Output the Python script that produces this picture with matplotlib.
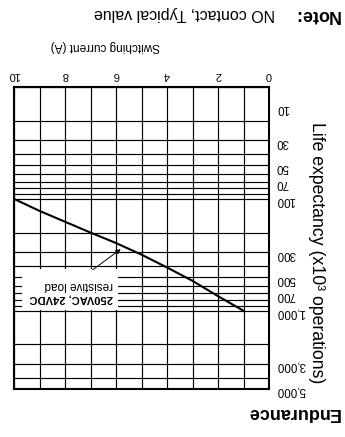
import matplotlib
matplotlib.use('Agg')
import matplotlib.pyplot as plt
from matplotlib.patches import Rectangle
from matplotlib.transforms import ScaledTranslation

plt.rcParams['font.family'] = ['Liberation Sans', 'DejaVu Sans']

# endurance curve (A, x10^3 operations)
current = [1, 2, 3, 4, 5, 6, 7, 8, 9, 10]
life = [1000, 740, 540, 410, 315, 248, 200, 160, 128, 100]

x_ticks = [0, 2, 4, 6, 8, 10]
x_minor = [1, 3, 5, 7, 9]
y_ticks = [10, 30, 50, 70, 100, 300, 500, 700, 1000, 3000, 5000]
y_labels = ['10', '30', '50', '70', '100', '300', '500', '700', '1,000', '3,000', '5,000']
y_minor = [20, 40, 60, 80, 90, 200, 400, 600, 800, 900, 2000, 4000]

# the whole sheet is upside down, so flip axes and turn every text 180
fig = plt.figure(figsize=(3.45, 4.37), dpi=100)
ax = fig.add_axes([14/345, 48/437, 255/345, 302/437])

ax.set_yscale('log')
ax.set_xlim(10, 0)
ax.set_ylim(5000, 10)

ax.set_xticks(x_ticks)
ax.set_xticks(x_minor, minor=True)
ax.set_xticklabels([str(v) for v in x_ticks], rotation=180, fontsize=8)
ax.set_yticks(y_ticks)
ax.set_yticks(y_minor, minor=True)
ax.set_yticklabels(y_labels, rotation=180, fontsize=8.3)
ax.yaxis.set_minor_formatter(plt.NullFormatter())

ax.xaxis.tick_top()
ax.yaxis.tick_right()
ax.tick_params(which='both', length=0)
ax.tick_params(axis='x', pad=5)
ax.tick_params(axis='y', pad=5)

# "10" label sits a bit below the corner
lab10 = ax.get_yticklabels()[0]
lab10.set_transform(lab10.get_transform() + ScaledTranslation(0, -0.2, fig.dpi_scale_trans))

ax.grid(which='both', color='black', lw=0.85)
for s in ax.spines.values():
    s.set_linewidth(1.5)

ax.plot(current, life, color='black', lw=1.5, zorder=4)

# label box
ax.add_patch(Rectangle((5.92, 427), 9.7 - 5.92, 980 - 427, facecolor='white',
                       edgecolor='none', zorder=3))
ax.text(6.12, 583, 'resistive load', rotation=180, ha='right', va='center',
        fontsize=8.5, zorder=5)
ax.text(6.12, 770, '250VAC, 24VDC', rotation=180, ha='right', va='center',
        fontsize=8, fontweight='bold', zorder=5)
ax.annotate('', xy=(5.73, 272), xytext=(7.0, 445),
            arrowprops=dict(arrowstyle='-|>', lw=0.7, color='black', mutation_scale=7),
            zorder=5)

ax.set_xlabel('Switching current (A)', rotation=180, fontsize=8.5)
ax.xaxis.set_label_position('top')
ax.xaxis.set_label_coords(0.36, 1.125)
ax.set_ylabel('Life expectancy (x10³ operations)', rotation=270, fontsize=12.7)
ax.yaxis.set_label_position('right')
ax.yaxis.set_label_coords(1.22, 0.45)

fig.text(340/345, 1 - 413/437, 'Endurance', rotation=180, ha='right', va='center',
         fontsize=13, fontweight='bold')
fig.text(340/345, 1 - 14/437, 'Note:', rotation=180, ha='right', va='center',
         fontsize=13, fontweight='bold')
fig.text(275/345, 1 - 14/437, 'NO contact, Typical value', rotation=180, ha='right',
         va='center', fontsize=11.5)

fig.savefig('out.png', dpi=100)
